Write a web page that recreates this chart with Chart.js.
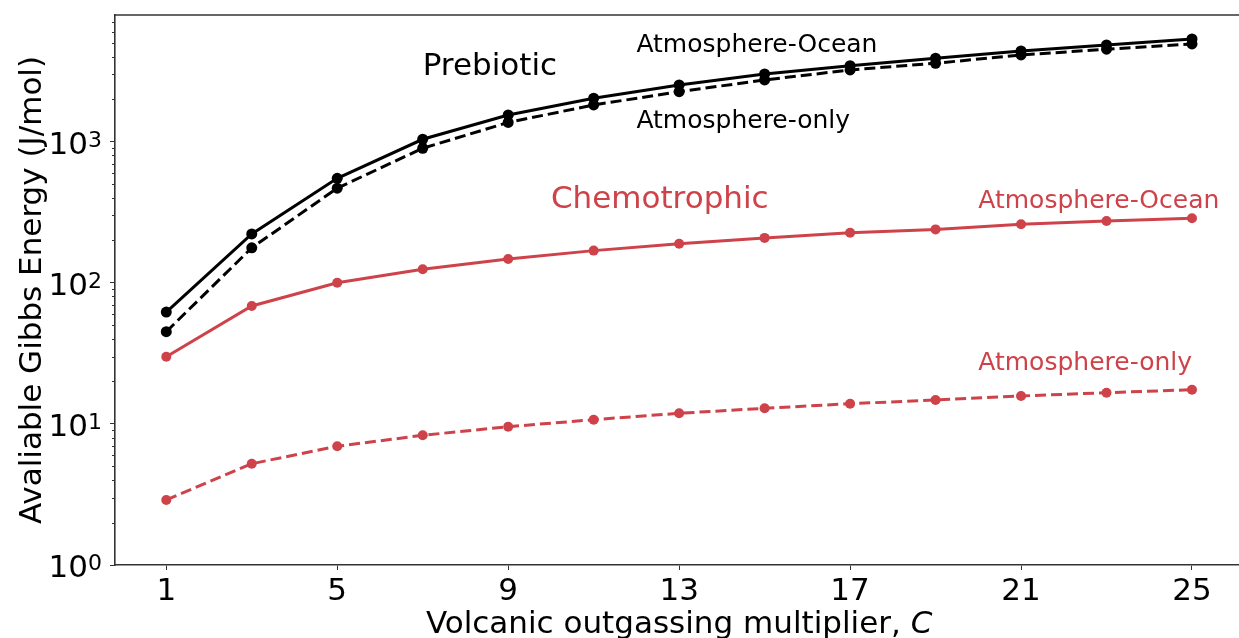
<!DOCTYPE html>
<html>
<head>
<meta charset="utf-8">
<script src="https://cdn.jsdelivr.net/npm/chart.js@4.4.1/dist/chart.umd.min.js"></script>
<style>
  html, body { margin: 0; padding: 0; background: #fff; }
  #chart-wrap { width: 1239px; height: 638px; }
</style>
</head>
<body>
<div id="chart-wrap"><canvas id="gibbs-chart" width="1239" height="638"></canvas></div>
<script>
// Volcanic outgassing multiplier C (odd values 1..25)
const multipliers = [1, 3, 5, 7, 9, 11, 13, 15, 17, 19, 21, 23, 25];

// Available Gibbs energy (J/mol)
const prebioticOcean = [62, 222, 550, 1040, 1546, 2031, 2523, 3019, 3457, 3900, 4394, 4843, 5345];
const prebioticAtmOnly = [45, 177, 468, 898, 1368, 1820, 2262, 2736, 3222, 3594, 4115, 4519, 4923];
const chemoOcean = [29.9, 68.5, 100, 124.7, 147.4, 169, 189, 208, 226, 239, 260, 274, 287];
const chemoAtmOnly = [2.89, 5.22, 6.94, 8.3, 9.55, 10.71, 11.89, 12.9, 13.9, 14.76, 15.77, 16.64, 17.47];

// Tick labels
const xTickValues = [1, 5, 9, 13, 17, 21, 25];
const yDecades = [1, 10, 100, 1000];
const yExponents = ['0', '1', '2', '3'];

const BLACK = '#000000';
const RED = 'rgb(206, 66, 74)';
const AXIS_COLOR = '#333333';
const FONT = "'DejaVu Sans', sans-serif";

// Text labels placed in data coordinates (left edge, baseline)
const annotations = [
  { text: 'Prebiotic', x: 7.0, y: 2970, color: BLACK, size: 31 },
  { text: 'Atmosphere-Ocean', x: 12.0, y: 4345, color: BLACK, size: 25 },
  { text: 'Atmosphere-only', x: 12.0, y: 1245, color: BLACK, size: 25 },
  { text: 'Chemotrophic', x: 10.0, y: 341, color: RED, size: 31 },
  { text: 'Atmosphere-Ocean', x: 20.0, y: 341, color: RED, size: 25 },
  { text: 'Atmosphere-only', x: 20.0, y: 24.1, color: RED, size: 25 },
];

function toPoints(values) {
  return multipliers.map((c, i) => ({ x: c, y: values[i] }));
}

function makeSeries(label, values, color, dashed, radius) {
  return {
    label: label,
    data: toPoints(values),
    borderColor: color,
    backgroundColor: color,
    pointBackgroundColor: color,
    pointBorderWidth: 0,
    pointRadius: radius,
    borderWidth: 3,
    borderDash: dashed ? [11, 5] : [],
    tension: 0,
  };
}

// Draws the extra bits: top spine, minor y ticks, y tick labels, titles, annotations
const decorPlugin = {
  id: 'decor',
  afterDraw(chart) {
    const { ctx, chartArea, scales } = chart;
    const xs = scales.x;
    const ys = scales.y;
    ctx.save();

    // top spine
    ctx.strokeStyle = AXIS_COLOR;
    ctx.lineWidth = 1.6;
    ctx.beginPath();
    ctx.moveTo(chartArea.left - 0.8, chartArea.top);
    ctx.lineTo(chartArea.right, chartArea.top);
    ctx.stroke();

    // minor ticks on the log axis
    ctx.lineWidth = 1;
    ctx.beginPath();
    yDecades.forEach(d => {
      for (let m = 2; m <= 9; m++) {
        const v = d * m;
        if (v > ys.max) break;
        const py = Math.round(ys.getPixelForValue(v)) + 0.5;
        ctx.moveTo(chartArea.left - 3, py);
        ctx.lineTo(chartArea.left, py);
      }
    });
    ctx.stroke();

    // y tick labels as 10^n
    ctx.fillStyle = BLACK;
    ctx.textBaseline = 'alphabetic';
    yDecades.forEach((d, i) => {
      const py = ys.getPixelForValue(d);
      const xRight = chartArea.left - 27;
      ctx.font = '31px ' + FONT;
      ctx.textAlign = 'right';
      ctx.fillText('10', xRight, py + 12);
      ctx.font = '22px ' + FONT;
      ctx.textAlign = 'left';
      ctx.fillText(yExponents[i], xRight, py + 5);
    });

    // y axis title
    ctx.save();
    ctx.translate(41, (chartArea.top + chartArea.bottom) / 2);
    ctx.rotate(-Math.PI / 2);
    ctx.font = '31px ' + FONT;
    ctx.textAlign = 'center';
    ctx.fillText('Avaliable Gibbs Energy (J/mol)', 0, 0);
    ctx.restore();

    // x axis title with italic C
    const part1 = 'Volcanic outgassing multiplier, ';
    const part2 = 'C';
    ctx.font = '31px ' + FONT;
    const w1 = ctx.measureText(part1).width;
    ctx.font = 'italic 31px ' + FONT;
    const w2 = ctx.measureText(part2).width;
    const cx = (chartArea.left + xs.getPixelForValue(26.2)) / 2;
    const startX = cx - (w1 + w2) / 2;
    ctx.textAlign = 'left';
    ctx.font = '31px ' + FONT;
    ctx.fillText(part1, startX, 633);
    ctx.font = 'italic 31px ' + FONT;
    ctx.fillText(part2, startX + w1, 633);

    // annotations
    annotations.forEach(a => {
      ctx.font = a.size + 'px ' + FONT;
      ctx.fillStyle = a.color;
      ctx.textAlign = 'left';
      ctx.fillText(a.text, xs.getPixelForValue(a.x), ys.getPixelForValue(a.y));
    });

    ctx.restore();
  },
};

const ctxGibbs = document.getElementById('gibbs-chart').getContext('2d');
const gibbsChart = new Chart(ctxGibbs, {
  type: 'line',
  data: {
    datasets: [
      makeSeries('Prebiotic Atmosphere-Ocean', prebioticOcean, BLACK, false, 5.5),
      makeSeries('Prebiotic Atmosphere-only', prebioticAtmOnly, BLACK, true, 5.5),
      makeSeries('Chemotrophic Atmosphere-Ocean', chemoOcean, RED, false, 5),
      makeSeries('Chemotrophic Atmosphere-only', chemoAtmOnly, RED, true, 5),
    ],
  },
  options: {
    responsive: false,
    animation: false,
    layout: { autoPadding: false, padding: { left: 0, top: 15, right: 0, bottom: 0 } },
    plugins: {
      legend: { display: false },
      tooltip: { enabled: false },
    },
    scales: {
      x: {
        type: 'linear',
        min: -0.2,
        max: 26.1,
        afterBuildTicks: scale => {
          scale.ticks = xTickValues.map(v => ({ value: v }));
        },
        afterFit: scale => {
          scale.height = 73;
        },
        ticks: {
          color: BLACK,
          font: { family: FONT, size: 31 },
          padding: 3,
          maxRotation: 0,
          autoSkip: false,
          callback: value => String(value),
        },
        grid: {
          drawOnChartArea: false,
          drawTicks: true,
          tickLength: 5,
          color: AXIS_COLOR,
          lineWidth: 1,
        },
        border: { display: true, color: AXIS_COLOR, width: 1.6 },
      },
      y: {
        type: 'logarithmic',
        min: 1,
        max: 7900,
        afterBuildTicks: scale => {
          scale.ticks = yDecades.map(v => ({ value: v, major: true }));
        },
        afterFit: scale => {
          scale.width = 115;
        },
        ticks: { display: false },
        grid: {
          drawOnChartArea: false,
          drawTicks: true,
          tickLength: 5,
          color: AXIS_COLOR,
          lineWidth: 1,
        },
        border: { display: true, color: AXIS_COLOR, width: 1.6 },
      },
    },
  },
  plugins: [decorPlugin],
});
</script>
</body>
</html>
